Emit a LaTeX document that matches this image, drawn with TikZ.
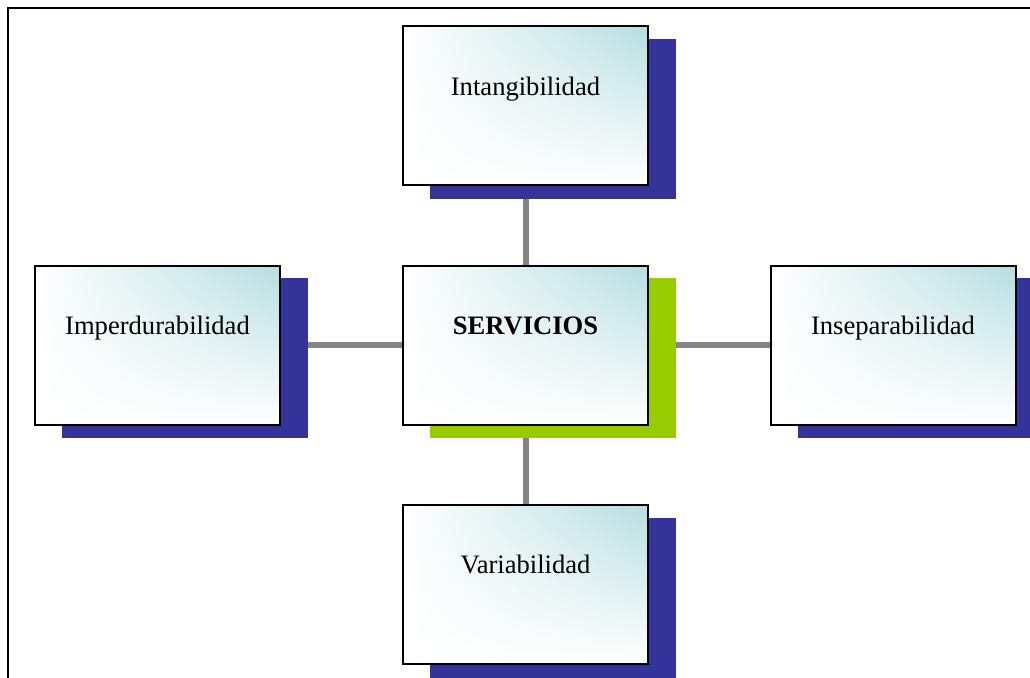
\documentclass[tikz,border=0pt]{standalone}
\usepackage{fontspec}
\setmainfont{Liberation Serif}
\usetikzlibrary{shadings}
\pgfdeclarelayer{background}
\pgfsetlayers{background,main}
\definecolor{navyshadow}{HTML}{333399}
\definecolor{limeshadow}{HTML}{99CC00}
\definecolor{tealfill}{HTML}{B6DDE1}
\definecolor{conncolor}{HTML}{858585}
\begin{document}
\begin{tikzpicture}[x=0.5pt,y=-0.5pt,
  boxnode/.style={draw=black, line width=1pt, minimum width=122.5pt, minimum height=79.5pt, inner sep=0pt,
    lower left=white, upper left=white, lower right=white, upper right=tealfill},
  shadownode/.style={draw=none, minimum width=123pt, minimum height=80pt, inner sep=0pt, fill=#1},
  txt/.style={font=\fontsize{13.3}{16}\selectfont, anchor=base, inner sep=0pt},
  connector/.style={draw=conncolor, line width=3pt},
  frameline/.style={draw=black, line width=1pt}]
\useasboundingbox (0,0) rectangle (1030,677);
\clip (0,0) rectangle (1030,677);
% shadows
\node[shadownode=navyshadow] (sT) at (552.5,119) {};
\node[shadownode=limeshadow] (sC) at (552.5,358) {};
\node[shadownode=navyshadow] (sB) at (552.5,598) {};
\node[shadownode=navyshadow] (sL) at (184.5,358) {};
\node[shadownode=navyshadow] (sR) at (920.5,358) {};
% boxes
\node[boxnode] (T) at (525.5,105) {};
\node[boxnode] (C) at (525.5,345) {};
\node[boxnode] (B) at (525.5,584) {};
\node[boxnode] (L) at (157.5,345) {};
\node[boxnode] (R) at (893,345) {};
% labels
\node[txt] (tT) at (525.5,95) {Intangibilidad};
\node[txt] (tC) at (525.5,334) {\textbf{SERVICIOS}};
\node[txt] (tB) at (525.5,573) {Variabilidad};
\node[txt] (tL) at (157.5,334) {Imperdurabilidad};
\node[txt] (tR) at (893,334) {Inseparabilidad};
\begin{pgfonlayer}{background}
\draw[frameline] (8,7.5) rectangle (1045,700);
\draw[connector] (T.south) -- (C.north);
\draw[connector] (C.south) -- (B.north);
\draw[connector] (L.east) -- (C.west);
\draw[connector] (C.east) -- (R.west);
\end{pgfonlayer}
\end{tikzpicture}
\end{document}
